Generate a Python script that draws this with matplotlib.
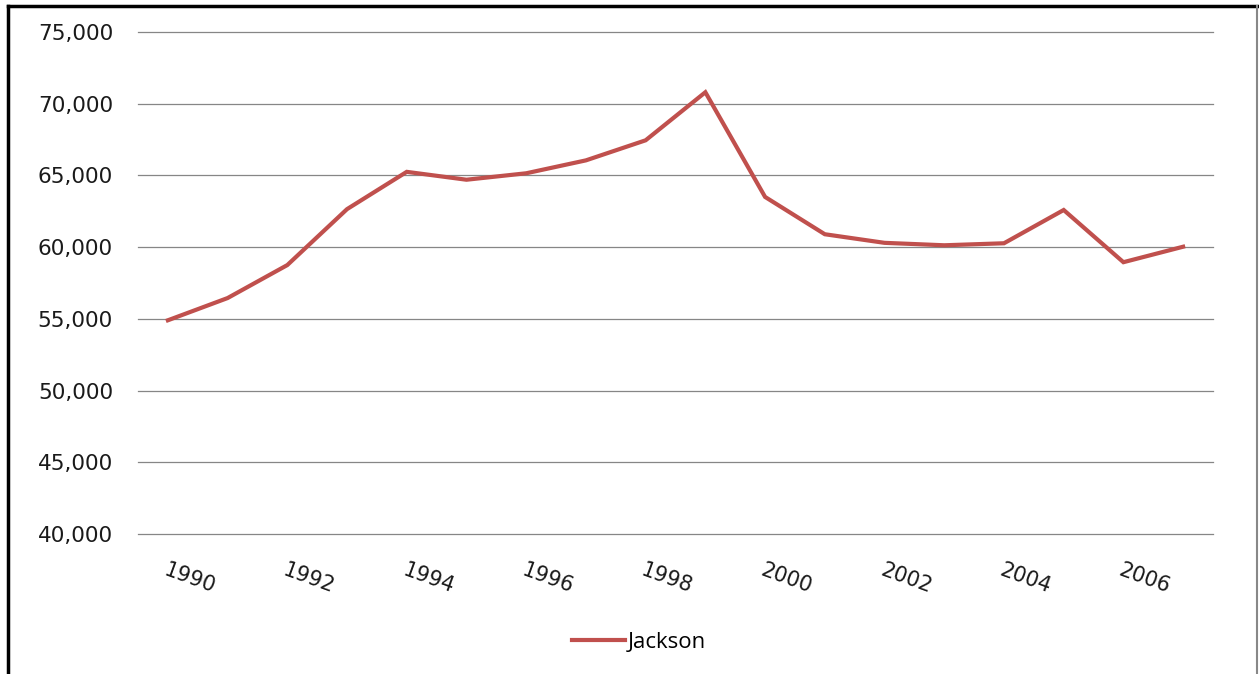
import matplotlib
matplotlib.use('Agg')
import matplotlib.pyplot as plt
from matplotlib.lines import Line2D
from matplotlib.ticker import FuncFormatter

# === Data ===
years = list(range(1990, 2008))
jackson = [54900, 56450, 58750, 62650, 65250, 64700, 65150, 66050, 67450,
           70800, 63500, 60900, 60300, 60130, 60270, 62590, 58950, 60030]
tick_years = list(range(1990, 2007, 2))
y_ticks = list(range(40000, 75001, 5000))

line_color = '#C0504D'
grid_color = '#868686'

fig = plt.figure(figsize=(12.59, 6.74), dpi=100)
ax = fig.add_axes([138 / 1259, 1 - 534 / 674, (1213 - 138) / 1259, (534 - 32) / 674])

# categories as positions 0..n-1 so there's half-step padding on each side
xpos = list(range(len(years)))
ax.plot(xpos, jackson, color=line_color, lw=3.0, solid_joinstyle='miter', label='Jackson')

ax.set_xlim(-0.5, len(years) - 0.5)
ax.set_ylim(40000, 75000)
ax.set_yticks(y_ticks)
ax.yaxis.set_major_formatter(FuncFormatter(lambda v, p: '{:,.0f}'.format(v)))
# gridlines drawn by hand so the edge ones aren't clipped
for v in y_ticks:
    ax.axhline(v, color=grid_color, lw=0.9, clip_on=False, zorder=0)
for s in ax.spines.values():
    s.set_visible(False)

ax.set_xticks([years.index(y) for y in tick_years])
ax.set_xticklabels([str(y) for y in tick_years], rotation=-20, ha='left',
                   rotation_mode='anchor', fontsize=15, color='#1a1a1a')
ax.tick_params(axis='x', length=0, pad=19)
ax.tick_params(axis='y', length=0, pad=18, labelsize=15.5, labelcolor='#1a1a1a')

# legend below plot
handle = Line2D([], [], color=line_color, lw=3.0)
fig.legend([handle], ['Jackson'], loc='center', bbox_to_anchor=(639 / 1259, 1 - 642 / 674),
           frameon=False, handlelength=2.4, handletextpad=0.1,
           prop={'family': 'Open Sans', 'size': 16})

# outer frame (top + left black, right gray)
fig.add_artist(Line2D([8 / 1259, 1257 / 1259], [1 - 6 / 674, 1 - 6 / 674],
                      transform=fig.transFigure, color='black', lw=2.5))
fig.add_artist(Line2D([8 / 1259, 8 / 1259], [0, 1 - 6 / 674],
                      transform=fig.transFigure, color='black', lw=2.5))
fig.add_artist(Line2D([1257 / 1259, 1257 / 1259], [0, 1 - 6 / 674],
                      transform=fig.transFigure, color='#888888', lw=1.5))

fig.savefig('out.png', dpi=100)
